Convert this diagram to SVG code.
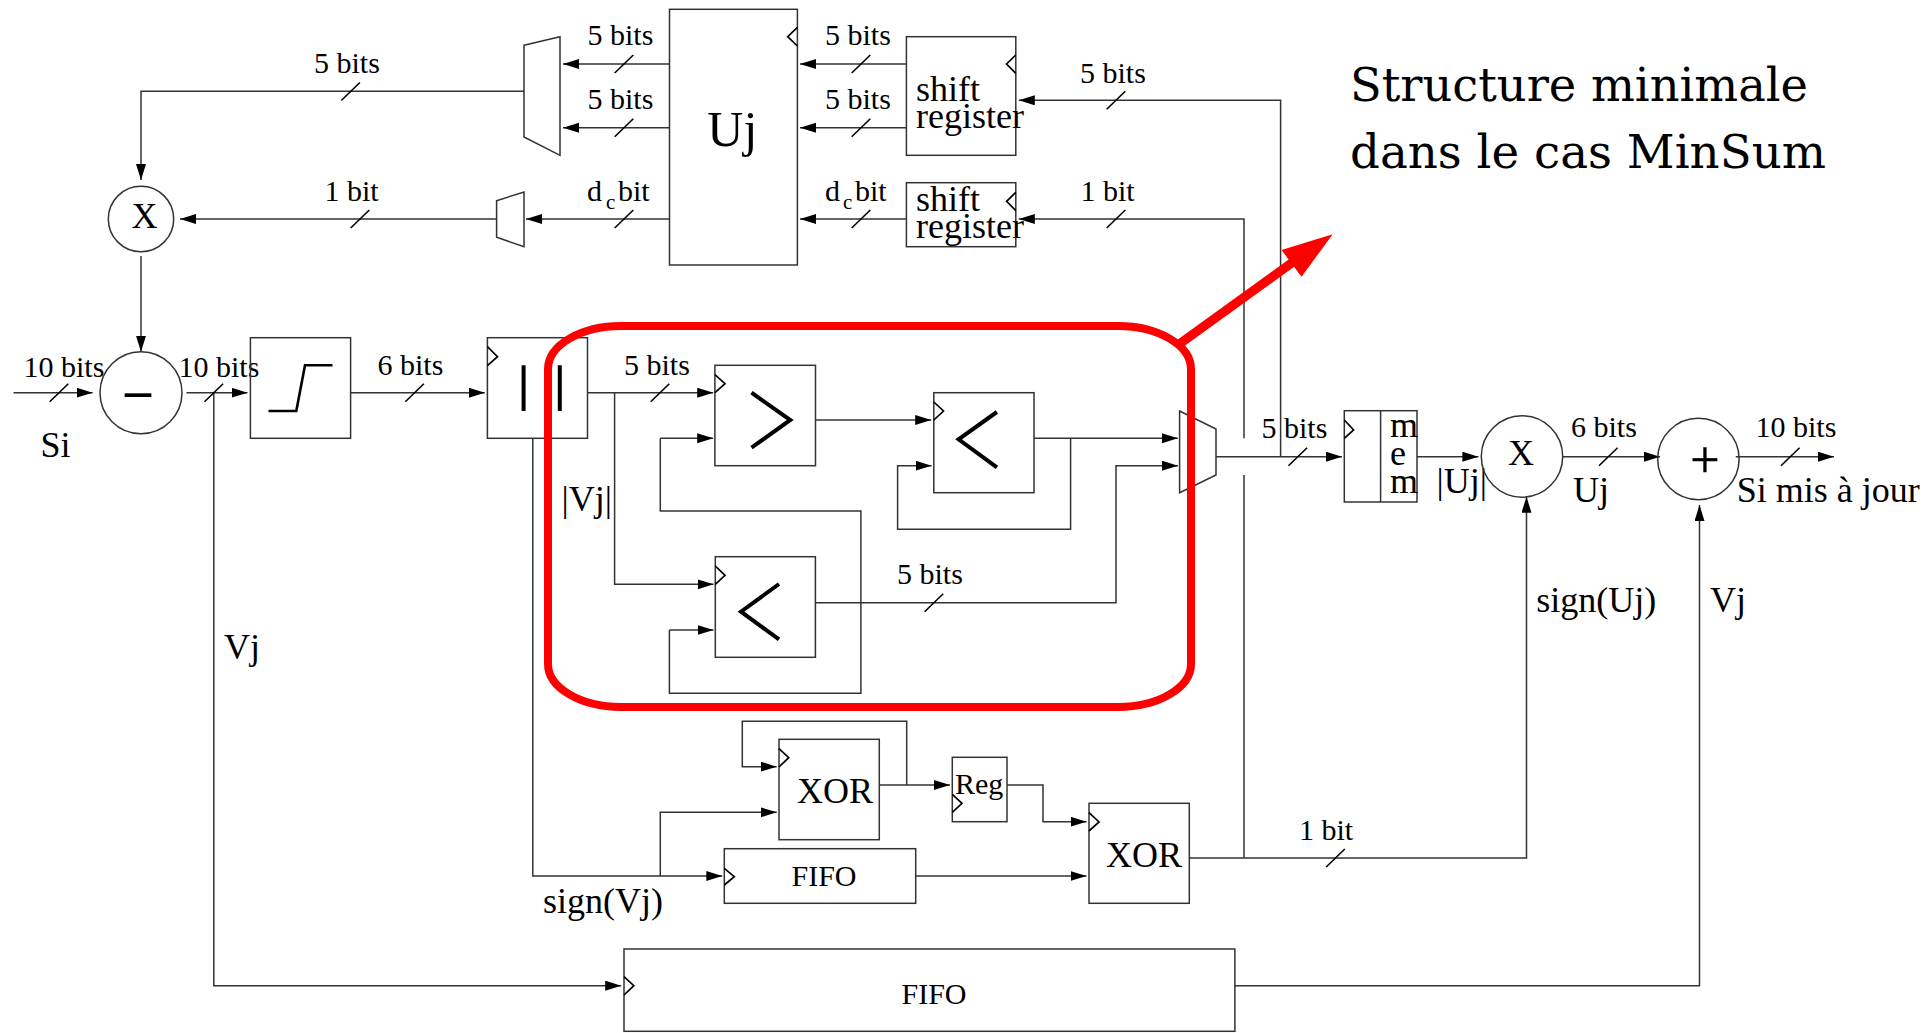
<svg xmlns="http://www.w3.org/2000/svg" width="1930" height="1033" viewBox="0 0 1930 1033">
<style>
text{font-family:"Liberation Serif","Times New Roman",serif;fill:#000}
.b{font-size:30px}
.l{font-size:36px}
.u{font-size:50px}
.s{font-size:21px}
.title{font-family:"DejaVu Serif",serif;font-size:46px}
.node rect,.node polygon,.node circle,.node .ck{fill:none;stroke:#333;stroke-width:1.5}
.node .ck{stroke:#000;stroke-width:1.7}
.node .sym{fill:none;stroke:#000;stroke-width:4;stroke-linejoin:miter}
#connectors path{fill:none;stroke:#333;stroke-width:1.5}
#connectors .a{marker-end:url(#arr)}
#connectors use{stroke:#000;stroke-width:1.6}
</style>
<defs>
<marker id="arr" markerUnits="userSpaceOnUse" markerWidth="18" markerHeight="12" refX="16" refY="5" orient="auto"><path d="M0 0L16 5L0 10z" fill="#000"/></marker>
<path id="tick" d="M-9.3 9L9.3-9"/>
</defs>
<rect width="1930" height="1033" fill="#fff"/>
<g id="connectors">
<path class="a" d="M524 91.3H141V180"/>
<path class="a" d="M669.5 64H563"/>
<path class="a" d="M669.5 127.7H563"/>
<path class="a" d="M669.5 219H526"/>
<path class="a" d="M496.6 219H180"/>
<path class="a" d="M141 256V351.7"/>
<path class="a" d="M13.5 392.7H92.6"/>
<path class="a" d="M186.5 392.7H247.5"/>
<path class="a" d="M350.6 392.7H484.8"/>
<path class="a" d="M906.4 64H800"/>
<path class="a" d="M906.4 127.7H800"/>
<path class="a" d="M906.4 219H800"/>
<path class="a" d="M1280.6 456.7V100.3H1018.8"/>
<path class="a" d="M1244 438.3V219H1018.8"/>
<path d="M1244 475V858"/>
<path class="a" d="M587.5 392.7H713.2"/>
<path class="a" d="M614.6 392.7V584.3H713.5"/>
<path class="a" d="M815.5 420H931.2"/>
<path class="a" d="M1034 438.3H1177.9"/>
<path class="a" d="M1070.6 438.3V529.3H897.6V465.7H931.6"/>
<path class="a" d="M815.4 602.7H1116V465.7H1178"/>
<path class="a" d="M660.3 438.3H713.2"/>
<path class="a" d="M669.4 630H713.5"/>
<path d="M660.3 438.3V511H860.9V693.3H669.4V630"/>
<path class="a" d="M1216 456.7H1342"/>
<path class="a" d="M1417 456.7H1478.4"/>
<path class="a" d="M1562.7 456.7H1660"/>
<path class="a" d="M1735.8 456.7H1834"/>
<path class="a" d="M532.8 438.3V876H722.3"/>
<path class="a" d="M660.3 876V812.3H776.7"/>
<path class="a" d="M879.3 785H950"/>
<path class="a" d="M906.7 785V721.3H742.3V766.7H776.7"/>
<path class="a" d="M1007 785H1043V821.7H1086.5"/>
<path class="a" d="M915.7 876H1086.5"/>
<path class="a" d="M1189.3 858H1526.5V496.7"/>
<path class="a" d="M213.8 392.7V985.7H621.2"/>
<path class="a" d="M1234.9 985.7H1699.5V505"/>
<use href="#tick" x="350.6" y="91.5"/>
<use href="#tick" x="624" y="64"/>
<use href="#tick" x="624" y="127.7"/>
<use href="#tick" x="624" y="219"/>
<use href="#tick" x="360" y="219"/>
<use href="#tick" x="59" y="392.7"/>
<use href="#tick" x="213.8" y="392.7"/>
<use href="#tick" x="414.6" y="392.7"/>
<use href="#tick" x="861" y="64"/>
<use href="#tick" x="861" y="127.7"/>
<use href="#tick" x="861" y="219"/>
<use href="#tick" x="1116" y="100.3"/>
<use href="#tick" x="1116" y="219"/>
<use href="#tick" x="660" y="392.7"/>
<use href="#tick" x="933.9" y="602.7"/>
<use href="#tick" x="1297.8" y="456.7"/>
<use href="#tick" x="1608.3" y="456.7"/>
<use href="#tick" x="1790.3" y="456.7"/>
<use href="#tick" x="1335.5" y="858"/>
</g>
<g id="labels">
<text class="b" x="314" y="72.7">5 bits</text>
<text class="b" x="587.5" y="45.3">5 bits</text>
<text class="b" x="587.5" y="109.3">5 bits</text>
<text class="b" x="324.5" y="200.7">1 bit</text>
<text class="b" x="587" y="200.7">d</text><text class="s" x="606" y="209">c</text><text class="b" x="618" y="200.7">bit</text>
<text class="b" x="23.5" y="376.7">10 bits</text>
<text class="b" x="178.5" y="376.7">10 bits</text>
<text class="l" x="40.5" y="456.5">Si</text>
<text class="b" x="377.5" y="375">6 bits</text>
<text class="b" x="825" y="45.3">5 bits</text>
<text class="b" x="825" y="109.3">5 bits</text>
<text class="b" x="825" y="200.7">d</text><text class="s" x="842.9" y="209">c</text><text class="b" x="855" y="200.7">bit</text>
<text class="b" x="1080" y="82.7">5 bits</text>
<text class="b" x="1080.5" y="200.7">1 bit</text>
<text class="b" x="624" y="375">5 bits</text>
<text class="b" x="897" y="584">5 bits</text>
<text class="l" x="561.5" y="510.7">|Vj|</text>
<text class="b" x="1261.5" y="438.3">5 bits</text>
<text class="l" x="1436.5" y="492.7">|Uj|</text>
<text class="b" x="1571" y="437.3">6 bits</text>
<text class="l" x="1573" y="501.5">Uj</text>
<text class="b" x="1755.5" y="437.3">10 bits</text>
<text class="l" x="1736.8" y="502">Si mis à jour</text>
<text class="b" x="1299" y="840">1 bit</text>
<text class="l" x="543" y="913.3">sign(Vj)</text>
<text class="l" x="1536.2" y="611.7">sign(Uj)</text>
<text class="l" x="1710" y="611.7">Vj</text>
<text class="l" x="224" y="658.5">Vj</text>
<text class="title" x="1350" y="100.7" textLength="458" lengthAdjust="spacingAndGlyphs">Structure minimale</text>
<text class="title" x="1350" y="167.7" textLength="476" lengthAdjust="spacingAndGlyphs">dans le cas MinSum</text>
</g>
<g id="mux-top" class="node"><polygon points="524,45.3 560,36.7 560,155.3 524,137"/></g>
<g id="mux-sign" class="node"><polygon points="496.6,200.7 524,192 524,246.7 496.6,237.3"/></g>
<g id="mult-top" class="node"><circle cx="141" cy="219" r="32.7"/><text class="l" x="131.5" y="228.3">X</text></g>
<g id="sub" class="node"><circle cx="141" cy="392.8" r="41"/><text x="125" y="407.5" font-size="52" font-weight="700">–</text></g>
<g id="sat" class="node"><rect x="250.4" y="337.7" width="100.2" height="100.6"/><path class="sym" style="stroke-width:2.6" d="M268.5 411H296.3L305 365.3H332.5"/></g>
<g id="abs" class="node"><rect x="487.4" y="337.7" width="100.1" height="100.6"/><path class="ck" d="M487.4 346.7L497.5 356.7L487.4 365.7"/><path class="sym" d="M523.6 365.3V411M559.8 365.3V411"/></g>
<g id="uj" class="node"><rect x="669.5" y="9.3" width="127.9" height="255.7"/><path class="ck" d="M797.4 27.3L787.7 36.7L797.4 46"/><text class="u" x="707.3" y="145.7">Uj</text></g>
<g id="shift-1" class="node"><rect x="906.4" y="36.7" width="109.4" height="118.6"/><path class="ck" d="M1015.8 55L1006.6 64L1015.8 73.3"/><text class="l" x="916" y="100.7">shift</text><text class="l" x="916" y="128.3">register</text></g>
<g id="shift-2" class="node"><rect x="906.4" y="182.7" width="109.4" height="64"/><path class="ck" d="M1015.8 192.3L1006.6 201.3L1015.8 210.7"/><text class="l" x="916" y="211">shift</text><text class="l" x="916" y="238.3">register</text></g>
<g id="cmp-gt" class="node"><rect x="714.9" y="365.3" width="100.6" height="100.4"/><path class="ck" d="M714.9 374.7L725 383.7L714.9 392.7"/><path class="sym" d="M751.5 392.7L790.3 420L751.5 447.7"/></g>
<g id="cmp-lt-1" class="node"><rect x="933.8" y="392.7" width="100.2" height="100"/><path class="ck" d="M933.8 402L943.5 411L933.8 420"/><path class="sym" d="M996.9 412L958.6 439.3L996.9 467.3"/></g>
<g id="cmp-lt-2" class="node"><rect x="715.3" y="556.7" width="100.1" height="100.6"/><path class="ck" d="M715.3 566L725 575.3L715.3 584.3"/><path class="sym" d="M779 584L741 611.7L779 639.3"/></g>
<g id="mux-min" class="node"><polygon points="1179.6,411 1216,429 1216,475 1179.6,492.7"/></g>
<g id="mem" class="node"><rect x="1344.3" y="410.7" width="72.7" height="91.3"/><path d="M1380.6 410.7V502" style="stroke:#333;stroke-width:1.5"/><path class="ck" d="M1344.3 420L1353.6 430L1344.3 438.3"/><text class="l" x="1390" y="437.3">m</text><text class="l" x="1390" y="465">e</text><text class="l" x="1390" y="492.7">m</text></g>
<g id="mult-out" class="node"><circle cx="1522" cy="456.5" r="40.7"/><text class="l" x="1508" y="465">X</text></g>
<g id="add" class="node"><circle cx="1698.4" cy="459" r="40.7"/><text x="1705" y="477" font-size="52" text-anchor="middle" stroke="#000" stroke-width=".5">+</text></g>
<g id="xor-1" class="node"><rect x="779" y="739.3" width="100.3" height="100.4"/><path class="ck" d="M779 748.7L788.7 757.7L779 767"/><text class="l" x="797" y="803.3">XOR</text></g>
<g id="reg" class="node"><rect x="952.3" y="757.3" width="54.7" height="64.4"/><path class="ck" d="M952.3 794.3L962 803.3L952.3 812.3"/><text class="b" x="955" y="794.3">Reg</text></g>
<g id="fifo-sign" class="node"><rect x="724.3" y="848.7" width="191.4" height="54.6"/><path class="ck" d="M724.3 868.3L734.3 876.7L724.3 885"/><text class="b" x="791.5" y="886">FIFO</text></g>
<g id="xor-2" class="node"><rect x="1089" y="803.3" width="100.3" height="100"/><path class="ck" d="M1089 812.7L1099 822L1089 831"/><text class="l" x="1106" y="866.7">XOR</text></g>
<g id="fifo-vj" class="node"><rect x="624" y="949" width="610.9" height="82.3"/><path class="ck" d="M624 976.7L633.8 985.7L624 995"/><text class="b" x="901.5" y="1004">FIFO</text></g>
<g id="highlight">
<rect x="548" y="326" width="643" height="381" rx="73" ry="43" fill="none" stroke="#f00" stroke-width="8"/>
<path d="M1178 345L1293 262" fill="none" stroke="#f00" stroke-width="9"/>
<polygon points="1332.7,234.3 1281.5,250 1301.5,276.7" fill="#f00"/>
</g>
</svg>
